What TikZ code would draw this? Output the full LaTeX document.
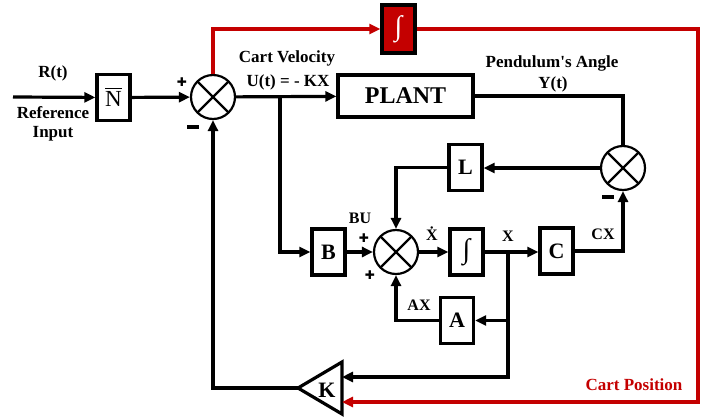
\documentclass[tikz,border=0pt]{standalone}
\usepackage{fontspec}
\setmainfont{Liberation Serif}
\newfontfamily\symfont{DejaVu Sans}
\usetikzlibrary{arrows.meta,calc}
\definecolor{rd}{RGB}{196,0,0}
\newcommand{\minussign}{\rule[0pt]{12pt}{3.4pt}}
\newcommand{\nbar}{{\setbox0=\hbox{N}\rlap{\raisebox{\dimexpr\ht0+2.5pt\relax}{\rule{\wd0}{1.3pt}}}N}}
\begin{document}
\begin{tikzpicture}[x=1pt,y=-1pt,
  blk/.style={draw,line width=3.4pt,minimum width=33pt,minimum height=46pt,inner sep=0pt,
    font=\fontsize{22}{24}\selectfont\bfseries},
  sumc/.style={draw,circle,line width=2.2pt,minimum size=44pt,inner sep=0pt,
    path picture={\draw[line width=2.2pt] (path picture bounding box.north west) -- (path picture bounding box.south east)
      (path picture bounding box.north east) -- (path picture bounding box.south west);}},
  wire/.style={line width=3.2pt},
  arr/.style={wire,-{Triangle[length=11pt,width=10pt]}},
  redarr/.style={line width=3.2pt,draw=rd,-{Triangle[length=11pt,width=10pt]},color=rd},
  intg/.style={font=\fontsize{28}{30}\selectfont\bfseries},
  lbl/.style={font=\fontsize{17}{19}\selectfont\bfseries,inner sep=0pt},
  sml/.style={font=\fontsize{16}{18}\selectfont\bfseries,inner sep=0pt},
  plus/.style={font=\symfont\fontsize{12}{12}\selectfont,inner sep=0pt},
  minus/.style={inner sep=0pt}]
\useasboundingbox (0,0) rectangle (706,416);

% blocks
\node[blk,font=\fontsize{23}{25}\selectfont] (N) at (113.5,97.5) {\nbar};
\node[sumc] (S1) at (213,97) {};
\node[blk,minimum width=135pt,minimum height=42pt,font=\fontsize{24}{26}\selectfont\bfseries] (P) at (405.5,96) {PLANT};
\node[blk,intg,fill=rd,text=white,minimum height=48pt] (I1) at (398.5,29) {∫};
\node[blk] (B) at (328.5,252) {B};
\node[sumc] (S2) at (396,252) {};
\node[blk,intg] (I2) at (466.5,252) {∫};
\node[blk] (C) at (556.5,251) {C};
\node[sumc] (S3) at (623,168) {};
\node[blk] (L) at (465.5,167.5) {L};
\node[blk] (A) at (457,320.5) {A};

% K triangle
\coordinate (Ktip) at (298,388);
\coordinate (Ktop) at (342,362);
\coordinate (Kbot) at (342,414);
\draw[line width=3.2pt,line join=miter] (Ktop) -- (Ktip) -- (Kbot) -- cycle;
\node[font=\fontsize{22}{22}\selectfont\bfseries,inner sep=0pt] (K) at (327,390) {K};
\coordinate (Ka) at (342,377);
\coordinate (Kb) at (342,402);

% junctions
\coordinate (in) at (13,97);
\coordinate (J1) at (280,97);
\coordinate (J2) at (508,252);
\coordinate (RC) at (698,402);

% connectors
\draw[arr] (in) -- (N);
\draw[arr] (N) -- (S1);
\draw[arr] (S1) -- (P);
\draw[arr] (J1) |- (B);
\draw[redarr] (S1.north) |- (I1);
\draw[redarr] (I1) -| (RC) -- (Kb);
\draw[wire] (P) -| (S3);
\draw[arr] (S3.west) -- (S3.west -| L.east);
\draw[arr] (L) -| (S2);
\draw[arr] (B) -- (S2);
\draw[arr] (S2) -- (I2);
\draw[arr] (I2.east) -- (I2.east -| C.west);
\draw[arr] (C) -| (S3);
\draw[arr] (J2) |- (Ka);
\draw[arr] (J2 |- A) -- (A);
\draw[arr] (A) -| (S2);
\draw[arr] (Ktip) -| (S1);

% labels
\node[lbl] at (53,73) {R(t)};
\node[lbl,align=center] at (53,124) {Reference\\Input};
\node[plus] at (182,82) {✚};
\node[minus] at (193,127) {\minussign};
\node[lbl] at (287,58) {Cart Velocity};
\node[lbl] at (288,82) {U(t) = - KX};
\node[lbl] at (552,63) {Pendulum\textquotesingle s Angle};
\node[lbl] at (553,84) {Y(t)};
\node[sml] at (360,218) {BU};
\node[plus] at (364,238) {✚};
\node[plus] at (370,275) {✚};
\node[sml] at (432,234) {\.{X}};
\node[sml] at (508,236) {X};
\node[sml] at (603,234) {CX};
\node[minus] at (608,197) {\minussign};
\node[sml] at (419,305) {AX};
\node[lbl,text=rd] at (634,385) {Cart Position};
\end{tikzpicture}
\end{document}
